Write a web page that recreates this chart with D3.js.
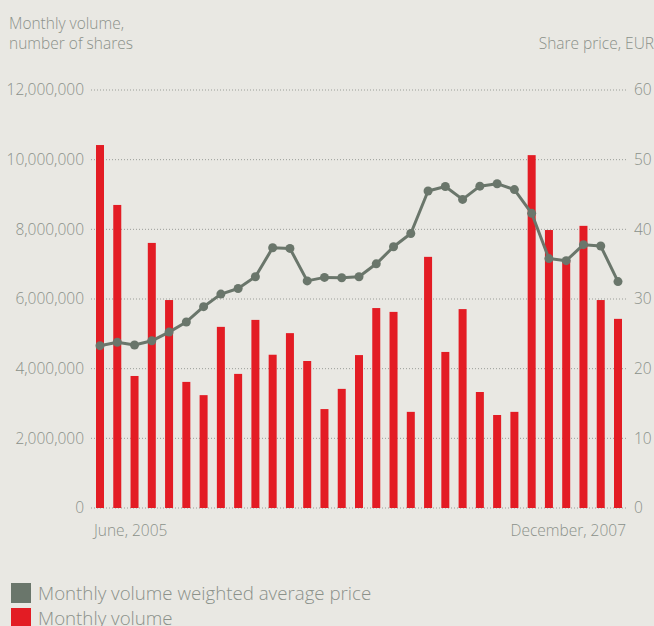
<!DOCTYPE html>
<html><head><meta charset="utf-8">
<script src="https://cdn.jsdelivr.net/npm/d3@7"></script>
<style>
html,body{margin:0;padding:0;background:#e9e8e3;}
svg{display:block;font-family:"Open Sans",sans-serif;font-weight:300;}
</style></head><body>
<svg id="c" width="654" height="626"></svg>
<script>
const months = ["2005-06","2005-07","2005-08","2005-09","2005-10","2005-11","2005-12",
"2006-01","2006-02","2006-03","2006-04","2006-05","2006-06","2006-07","2006-08","2006-09","2006-10","2006-11","2006-12",
"2007-01","2007-02","2007-03","2007-04","2007-05","2007-06","2007-07","2007-08","2007-09","2007-10","2007-11","2007-12"];
const volume = [10420000,8700000,3790000,7610000,5970000,3620000,3240000,5200000,3850000,5400000,4400000,5020000,4220000,2840000,
3420000,4390000,5740000,5630000,2760000,7210000,4480000,5710000,3330000,2670000,2760000,10130000,7980000,7120000,8100000,5970000,5430000];
const price = [23.3,23.8,23.4,24.0,25.25,26.7,28.9,30.7,31.5,33.2,37.35,37.26,32.6,33.1,33.05,33.2,35.05,37.5,39.4,
45.5,46.15,44.3,46.2,46.55,45.7,42.3,35.8,35.5,37.8,37.6,32.5];
const volTicks = [0,2000000,4000000,6000000,8000000,10000000,12000000];
const priceTicks = [0,10,20,30,40,50,60];
const legendItems = ["Monthly volume weighted average price","Monthly volume"];

const svg = d3.select("#c");
const textCol = "#8b918a", red = "#e31c24", lineCol = "#6a766b";
const x = d3.scalePoint().domain(months).range([100,618]);
const yV = d3.scaleLinear().domain([0,12000000]).range([508,90]);
const yP = d3.scaleLinear().domain([0,60]).range([508,90]);

// gridlines
svg.append("g").selectAll("line").data(volTicks).join("line")
  .attr("x1",91).attr("x2",627).attr("y1",d=>yV(d)).attr("y2",d=>yV(d))
  .attr("stroke","#9a9d98").attr("stroke-width",1).attr("stroke-dasharray","1,2");

const fmt = d3.format(",");
const lax = d3.axisLeft(yV).tickValues(volTicks).tickFormat(fmt).tickSize(0).tickPadding(0);
svg.append("g").attr("transform","translate(84,0)").call(lax)
  .call(g=>g.select(".domain").remove())
  .selectAll("text").attr("fill",textCol).attr("font-size",15.5).attr("font-family","Open Sans").attr("font-weight",300);
const rax = d3.axisRight(yP).tickValues(priceTicks).tickSize(0).tickPadding(0);
svg.append("g").attr("transform","translate(634,0)").call(rax)
  .call(g=>g.select(".domain").remove())
  .selectAll("text").attr("fill",textCol).attr("font-size",15.5).attr("font-family","Open Sans").attr("font-weight",300);

// bars
svg.append("g").selectAll("rect").data(volume).join("rect")
  .attr("x",(d,i)=>x(months[i])-4).attr("width",8)
  .attr("y",d=>yV(d)).attr("height",d=>yV(0)-yV(d)).attr("fill",red);

// line
const line = d3.line().x((d,i)=>x(months[i])).y(d=>yP(d));
svg.append("path").datum(price).attr("d",line).attr("fill","none")
  .attr("stroke",lineCol).attr("stroke-width",3).attr("stroke-linejoin","round");
svg.append("g").selectAll("circle").data(price).join("circle")
  .attr("cx",(d,i)=>x(months[i])).attr("cy",d=>yP(d)).attr("r",4.5).attr("fill",lineCol);

// titles
const t = svg.append("g").attr("fill",textCol).attr("font-size",15.5);
t.append("text").attr("x",9).attr("y",29).text("Monthly volume,");
t.append("text").attr("x",9).attr("y",49).text("number of shares");
t.append("text").attr("x",654).attr("y",49).attr("text-anchor","end").text("Share price, EUR");
t.append("text").attr("x",94).attr("y",536).text("June, 2005");
t.append("text").attr("x",626).attr("y",536).attr("text-anchor","end").text("December, 2007");

// legend
const lg = svg.append("g");
const lcols = [lineCol, red];
legendItems.forEach((s,i)=>{
  lg.append("rect").attr("x",11).attr("y",583+i*25).attr("width",20).attr("height",20).attr("fill",lcols[i]);
  lg.append("text").attr("x",38).attr("y",600+i*25).attr("fill",textCol).attr("font-size",18.7).text(s);
});
</script></body></html>
